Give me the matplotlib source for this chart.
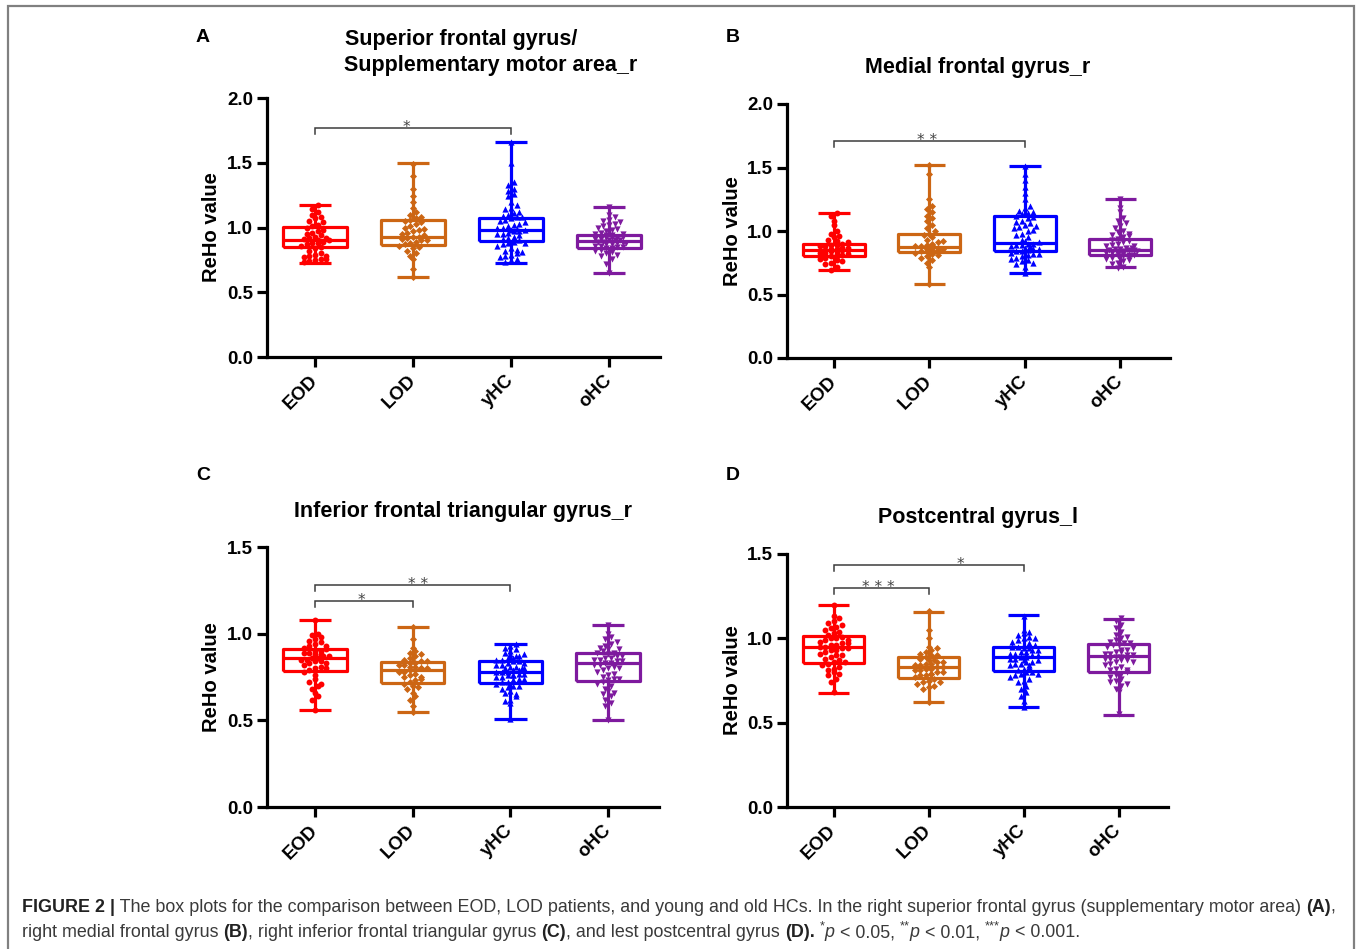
import matplotlib
matplotlib.use("Agg")
import matplotlib.pyplot as plt
from matplotlib.patches import Rectangle
import numpy as np

W, H, DPI = 1357, 949, 100

groups = ["EOD", "LOD", "yHC", "oHC"]
group_colors = ["#FF0000", "#CC6614", "#0000FF", "#7E1A9E"]
group_markers = ["o", "D", "^", "v"]
group_msize = [18, 13, 20, 20]

# ---------------- Panel A: Superior frontal gyrus / SMA_r ----------------
a_title = ["Superior frontal gyrus/", "Supplementary motor area_r"]
a_eod = [0.73, 0.74, 0.75, 0.76, 0.77, 0.78, 0.79, 0.80, 0.82, 0.84,
         0.85, 0.86, 0.87, 0.88, 0.88, 0.89, 0.90, 0.90, 0.91, 0.92,
         0.93, 0.94, 0.95, 0.96, 0.97, 0.98, 1.00, 1.01, 1.02, 1.04,
         1.05, 1.07, 1.08, 1.10, 1.12, 1.14, 1.17, 0.76, 0.78, 0.92]
a_lod = [0.62, 0.68, 0.76, 0.78, 0.80, 0.82, 0.84, 0.85, 0.86, 0.87,
         0.88, 0.89, 0.90, 0.90, 0.91, 0.92, 0.93, 0.93, 0.94, 0.95,
         0.96, 0.97, 0.98, 0.99, 1.00, 1.01, 1.03, 1.04, 1.05, 1.06,
         1.07, 1.08, 1.10, 1.12, 1.15, 1.20, 1.24, 1.30, 1.40, 1.49]
a_yhc = [0.73, 0.75, 0.77, 0.78, 0.79, 0.80, 0.81, 0.82, 0.84, 0.86,
         0.87, 0.88, 0.89, 0.90, 0.91, 0.92, 0.93, 0.94, 0.95, 0.95,
         0.96, 0.97, 0.97, 0.98, 0.98, 0.99, 1.00, 1.00, 1.01, 1.02,
         1.03, 1.04, 1.05, 1.06, 1.07, 1.08, 1.08, 1.09, 1.10, 1.11,
         1.12, 1.14, 1.15, 1.17, 1.20, 1.24, 1.26, 1.28, 1.30, 1.33,
         1.35, 1.50, 1.66, 0.76, 0.83, 0.88]
a_ohc = [0.65, 0.72, 0.76, 0.78, 0.80, 0.81, 0.82, 0.83, 0.84, 0.84,
         0.85, 0.86, 0.86, 0.87, 0.87, 0.88, 0.88, 0.89, 0.89, 0.90,
         0.90, 0.90, 0.91, 0.91, 0.92, 0.92, 0.93, 0.93, 0.94, 0.94,
         0.95, 0.96, 0.97, 0.98, 0.99, 1.00, 1.01, 1.02, 1.03, 1.05,
         1.06, 1.08, 1.10, 1.16, 0.79, 0.85, 0.88, 0.92, 0.95, 1.04]
a_min = [0.728, 0.620, 0.723, 0.646]
a_q1 = [0.847, 0.865, 0.896, 0.839]
a_med = [0.900, 0.929, 0.981, 0.896]
a_q3 = [1.006, 1.058, 1.076, 0.940]
a_max = [1.170, 1.496, 1.663, 1.161]
a_sig = [(0, 2, 1.77, "*", 0.93)]

# ---------------- Panel B: Medial frontal gyrus_r ----------------
b_title = "Medial frontal gyrus_r"
b_eod = [0.69, 0.72, 0.74, 0.75, 0.77, 0.78, 0.79, 0.80, 0.80, 0.81,
         0.82, 0.82, 0.83, 0.83, 0.84, 0.84, 0.85, 0.85, 0.85, 0.86,
         0.86, 0.87, 0.87, 0.88, 0.88, 0.89, 0.89, 0.90, 0.91, 0.92,
         0.93, 0.95, 0.96, 0.98, 1.00, 1.05, 1.08, 1.12, 1.14, 0.76]
b_lod = [0.58, 0.72, 0.75, 0.77, 0.79, 0.80, 0.82, 0.83, 0.84, 0.84,
         0.85, 0.85, 0.86, 0.86, 0.87, 0.87, 0.88, 0.88, 0.89, 0.90,
         0.91, 0.92, 0.93, 0.95, 0.97, 0.98, 1.00, 1.02, 1.05, 1.08,
         1.10, 1.12, 1.15, 1.17, 1.20, 1.25, 1.45, 1.52, 0.81, 0.89]
b_yhc = [0.67, 0.72, 0.74, 0.76, 0.77, 0.78, 0.79, 0.80, 0.81, 0.82,
         0.83, 0.84, 0.84, 0.85, 0.86, 0.86, 0.87, 0.87, 0.88, 0.89,
         0.89, 0.90, 0.90, 0.91, 0.92, 0.93, 0.95, 0.97, 0.98, 1.00,
         1.01, 1.02, 1.03, 1.05, 1.06, 1.07, 1.08, 1.10, 1.11, 1.12,
         1.13, 1.14, 1.15, 1.16, 1.18, 1.20, 1.25, 1.30, 1.35, 1.40,
         1.45, 1.51, 0.75, 0.82, 0.88, 1.04]
b_ohc = [0.71, 0.72, 0.74, 0.75, 0.76, 0.77, 0.78, 0.79, 0.80, 0.80,
         0.81, 0.81, 0.82, 0.82, 0.83, 0.83, 0.84, 0.84, 0.85, 0.85,
         0.85, 0.86, 0.86, 0.87, 0.87, 0.88, 0.89, 0.90, 0.91, 0.92,
         0.93, 0.94, 0.95, 0.96, 0.97, 0.99, 1.00, 1.02, 1.04, 1.06,
         1.08, 1.10, 1.15, 1.18, 1.25, 0.79, 0.84, 0.88, 0.92, 0.98]
b_min = [0.693, 0.580, 0.667, 0.714]
b_q1 = [0.806, 0.837, 0.842, 0.811]
b_med = [0.850, 0.876, 0.903, 0.850]
b_q3 = [0.895, 0.980, 1.120, 0.934]
b_max = [1.144, 1.520, 1.512, 1.254]
b_sig = [(0, 2, 1.71, "* *", 0.98)]

# ---------------- Panel C: Inferior frontal triangular gyrus_r ----------------
c_title = "Inferior frontal triangular gyrus_r"
c_eod = [0.56, 0.62, 0.64, 0.66, 0.68, 0.70, 0.72, 0.74, 0.76, 0.78,
         0.79, 0.80, 0.81, 0.82, 0.83, 0.84, 0.84, 0.85, 0.85, 0.86,
         0.86, 0.87, 0.87, 0.88, 0.88, 0.89, 0.89, 0.90, 0.90, 0.91,
         0.92, 0.93, 0.94, 0.95, 0.96, 0.97, 0.98, 0.99, 1.00, 1.08,
         0.71, 0.80, 0.83, 0.93]
c_lod = [0.55, 0.58, 0.62, 0.64, 0.66, 0.68, 0.70, 0.71, 0.72, 0.73,
         0.74, 0.75, 0.76, 0.77, 0.78, 0.78, 0.79, 0.79, 0.80, 0.80,
         0.81, 0.81, 0.82, 0.82, 0.83, 0.83, 0.84, 0.85, 0.86, 0.87,
         0.88, 0.89, 0.90, 0.92, 0.97, 1.04, 0.69, 0.75, 0.80, 0.84]
c_yhc = [0.51, 0.60, 0.61, 0.62, 0.64, 0.66, 0.67, 0.68, 0.69, 0.70,
         0.70, 0.71, 0.72, 0.72, 0.73, 0.74, 0.74, 0.75, 0.75, 0.76,
         0.76, 0.77, 0.77, 0.78, 0.78, 0.78, 0.79, 0.79, 0.80, 0.80,
         0.81, 0.81, 0.82, 0.82, 0.83, 0.84, 0.84, 0.85, 0.85, 0.86,
         0.86, 0.87, 0.88, 0.88, 0.89, 0.90, 0.91, 0.92, 0.93, 0.94,
         0.65, 0.73, 0.76, 0.80, 0.83, 0.87]
c_ohc = [0.50, 0.58, 0.60, 0.62, 0.64, 0.65, 0.67, 0.68, 0.70, 0.71,
         0.72, 0.73, 0.74, 0.75, 0.76, 0.77, 0.78, 0.79, 0.80, 0.81,
         0.82, 0.82, 0.83, 0.83, 0.84, 0.84, 0.85, 0.85, 0.86, 0.86,
         0.87, 0.87, 0.88, 0.88, 0.89, 0.90, 0.91, 0.92, 0.93, 0.94,
         0.95, 0.97, 0.98, 1.00, 1.05, 0.66, 0.74, 0.80, 0.89, 0.91]
c_min = [0.560, 0.550, 0.510, 0.500]
c_q1 = [0.787, 0.715, 0.716, 0.725]
c_med = [0.859, 0.792, 0.777, 0.830]
c_q3 = [0.909, 0.835, 0.843, 0.890]
c_max = [1.077, 1.040, 0.940, 1.050]
c_sig = [(0, 1, 1.19, "*", 0.48), (0, 2, 1.28, "* *", 1.06)]

# ---------------- Panel D: Postcentral gyrus_l ----------------
d_title = "Postcentral gyrus_l"
d_eod = [0.68, 0.74, 0.76, 0.78, 0.80, 0.81, 0.82, 0.83, 0.84, 0.85,
         0.86, 0.87, 0.88, 0.89, 0.90, 0.91, 0.92, 0.93, 0.93, 0.94,
         0.94, 0.95, 0.95, 0.96, 0.96, 0.97, 0.97, 0.98, 0.99, 1.00,
         1.00, 1.01, 1.02, 1.03, 1.04, 1.05, 1.06, 1.07, 1.08, 1.09,
         1.10, 1.12, 1.13, 1.20, 0.79, 0.86, 0.90, 0.99]
d_lod = [0.62, 0.70, 0.71, 0.72, 0.73, 0.74, 0.75, 0.76, 0.77, 0.78,
         0.78, 0.79, 0.80, 0.80, 0.81, 0.81, 0.82, 0.82, 0.83, 0.83,
         0.84, 0.84, 0.85, 0.85, 0.86, 0.86, 0.87, 0.88, 0.89, 0.90,
         0.91, 0.92, 0.93, 0.94, 0.95, 1.00, 1.05, 1.16, 0.74, 0.79,
         0.87, 0.90]
d_yhc = [0.59, 0.63, 0.66, 0.70, 0.72, 0.74, 0.75, 0.76, 0.77, 0.78,
         0.79, 0.80, 0.80, 0.81, 0.82, 0.83, 0.84, 0.85, 0.85, 0.86,
         0.86, 0.87, 0.87, 0.88, 0.88, 0.89, 0.89, 0.90, 0.90, 0.91,
         0.91, 0.92, 0.92, 0.93, 0.93, 0.94, 0.94, 0.95, 0.95, 0.96,
         0.97, 0.98, 0.99, 1.00, 1.01, 1.02, 1.03, 1.04, 1.05, 1.13,
         0.68, 0.79, 0.84, 0.90, 0.96, 1.00]
d_ohc = [0.55, 0.68, 0.70, 0.72, 0.74, 0.75, 0.76, 0.77, 0.78, 0.79,
         0.80, 0.81, 0.82, 0.83, 0.84, 0.85, 0.86, 0.87, 0.87, 0.88,
         0.88, 0.89, 0.89, 0.90, 0.90, 0.91, 0.91, 0.92, 0.92, 0.93,
         0.94, 0.95, 0.96, 0.96, 0.97, 0.97, 0.98, 0.99, 1.00, 1.01,
         1.02, 1.04, 1.06, 1.08, 1.10, 1.12, 0.73, 0.81, 0.86, 0.93]
d_min = [0.677, 0.623, 0.593, 0.548]
d_q1 = [0.851, 0.766, 0.804, 0.800]
d_med = [0.948, 0.829, 0.891, 0.895]
d_q3 = [1.012, 0.891, 0.948, 0.968]
d_max = [1.196, 1.157, 1.137, 1.117]
d_sig = [(0, 1, 1.30, "* * *", 0.47), (0, 2, 1.435, "*", 1.33)]

yticks_ab = [0.0, 0.5, 1.0, 1.5, 2.0]
yticks_cd = [0.0, 0.5, 1.0, 1.5]
ylabel_text = "ReHo value"

caption_line1 = [("FIGURE 2 |", "b"),
                 (" The box plots for the comparison between EOD, LOD patients, and young and old HCs. "
                  "In the right superior frontal gyrus (supplementary motor area) ", "n"),
                 ("(A)", "b"), (",", "n")]
caption_line2 = [("right medial frontal gyrus ", "n"), ("(B)", "b"),
                 (", right inferior frontal triangular gyrus ", "n"), ("(C)", "b"),
                 (", and lest postcentral gyrus ", "n"), ("(D).", "b"), (" ", "n"),
                 ("*", "sup"), ("p", "i"), (" < 0.05, ", "n"),
                 ("**", "sup"), ("p", "i"), (" < 0.01, ", "n"),
                 ("***", "sup"), ("p", "i"), (" < 0.001.", "n")]

# ======================================================================
plt.rcParams["font.family"] = ["Liberation Sans", "DejaVu Sans"]
fig = plt.figure(figsize=(W / DPI, H / DPI), dpi=DPI)
fig.patch.set_facecolor("white")


def px_rect(left, right, top, bottom):
    return [left / W, 1 - bottom / H, (right - left) / W, (bottom - top) / H]


def fx(x):
    return x / W


def fy(y):
    return 1 - y / H


def row_offsets(vals, ppx, ppy, row_px, col_px, maxn):
    """Prism-like scatter: points binned into rows, spread side by side."""
    vals = np.asarray(vals, float)
    bins = np.round(vals * ppy / row_px).astype(int)
    out = np.zeros(len(vals))
    for b in np.unique(bins):
        idx = np.where(bins == b)[0]
        chunks = [idx[k:k + maxn] for k in range(0, len(idx), maxn)]
        for c, chunk in enumerate(chunks):
            m = len(chunk)
            shift = (col_px / 2.0) if (c % 2 == 1) else 0.0
            for j, i in enumerate(chunk):
                out[i] = ((j - (m - 1) / 2.0) * col_px + shift) / ppx
    return out


XLIM = (-0.49, 3.52)


def panel(rect_px, ylim, yticks, datasets, mins, q1s, meds, q3s, maxs, sigs):
    left, right, top, bottom = rect_px
    ax = fig.add_axes(px_rect(left, right, top, bottom))
    ax.set_xlim(*XLIM)
    ax.set_ylim(*ylim)
    ppx = (right - left) / (XLIM[1] - XLIM[0])
    ppy = (bottom - top) / (ylim[1] - ylim[0])

    stats = []
    for i in range(4):
        stats.append(dict(med=meds[i], q1=q1s[i], q3=q3s[i],
                          whislo=mins[i], whishi=maxs[i], fliers=[]))
    res = ax.bxp(stats, positions=range(4), widths=0.65, capwidths=0.33,
                 showfliers=False, patch_artist=False, manage_ticks=False)
    for i in range(4):
        c = group_colors[i]
        for art in [res["boxes"][i], res["medians"][i],
                    res["whiskers"][2 * i], res["whiskers"][2 * i + 1],
                    res["caps"][2 * i], res["caps"][2 * i + 1]]:
            art.set_color(c)
            art.set_linewidth(2.3)
            art.set_solid_capstyle("butt")
            art.set_zorder(3)

    for i, vals in enumerate(datasets):
        offs = row_offsets(vals, ppx, ppy, 6.0, 5.6, 6)
        ax.scatter(np.full(len(vals), i) + offs, vals, s=group_msize[i],
                   marker=group_markers[i], color=group_colors[i],
                   linewidths=0, zorder=4, clip_on=False)

    drop = 6.0 / ppy
    for (g1, g2, yv, label, sx) in sigs:
        ax.plot([g1, g1, g2, g2], [yv - drop, yv, yv, yv - drop],
                color="#3c3c3c", lw=1.1, zorder=5, clip_on=False,
                solid_joinstyle="miter")
        ax.text(sx, yv - 4.0 / ppy, label, ha="center", va="baseline",
                fontsize=11, color="#444444", family=["DejaVu Sans"])

    for s in ["top", "right"]:
        ax.spines[s].set_visible(False)
    for s in ["left", "bottom"]:
        ax.spines[s].set_linewidth(2.3)
        ax.spines[s].set_color("black")
    ax.set_yticks(yticks)
    ax.set_yticklabels(["%.1f" % t for t in yticks])
    ax.set_xticks(range(4))
    ax.set_xticklabels(groups, rotation=45, ha="right", va="center",
                       rotation_mode="anchor")
    ax.tick_params(axis="both", direction="out", width=2.3, length=7,
                   labelsize=13.5, color="black")
    ax.tick_params(axis="x", pad=8)
    ax.tick_params(axis="y", pad=3)
    for lab in ax.get_xticklabels() + ax.get_yticklabels():
        lab.set_fontweight("bold")
    ax.set_ylabel(ylabel_text, fontsize=14.5, fontweight="bold")
    ax.yaxis.set_label_coords(-0.118, 0.5)
    ax.patch.set_alpha(0)
    return ax


axA = panel((267, 660, 98, 357), (0, 2.0), yticks_ab, [a_eod, a_lod, a_yhc, a_ohc],
            a_min, a_q1, a_med, a_q3, a_max, a_sig)
axB = panel((787, 1170, 104, 358), (0, 2.0), yticks_ab, [b_eod, b_lod, b_yhc, b_ohc],
            b_min, b_q1, b_med, b_q3, b_max, b_sig)
axC = panel((267, 659, 547, 807), (0, 1.5), yticks_cd, [c_eod, c_lod, c_yhc, c_ohc],
            c_min, c_q1, c_med, c_q3, c_max, c_sig)
axD = panel((787, 1168, 554, 807), (0, 1.5), yticks_cd, [d_eod, d_lod, d_yhc, d_ohc],
            d_min, d_q1, d_med, d_q3, d_max, d_sig)

# titles
tkw = dict(fontsize=15.5, fontweight="bold", color="black")
fig.text(fx(345), fy(40), a_title[0], ha="left", va="center", **tkw)
fig.text(fx(344), fy(66), a_title[1], ha="left", va="center", **tkw)
fig.text(fx(978), fy(67), b_title, ha="center", va="center", **tkw)
fig.text(fx(463), fy(511), c_title, ha="center", va="center", **tkw)
fig.text(fx(978), fy(517), d_title, ha="center", va="center", **tkw)

# panel letters
lkw = dict(fontsize=14, fontweight="bold", ha="center", va="center", color="black")
fig.text(fx(203), fy(38), "A", **lkw)
fig.text(fx(733), fy(38), "B", **lkw)
fig.text(fx(203), fy(475), "C", **lkw)
fig.text(fx(733), fy(475), "D", **lkw)

# frame
fig.patches.append(Rectangle((fx(7.5), fy(975)), fx(1354) - fx(7.5), fy(6) - fy(975),
                             transform=fig.transFigure, fill=False,
                             edgecolor="#808080", lw=1.6, figure=fig))

# caption
renderer = fig.canvas.get_renderer()


def seg_kw(style, size):
    kw = dict(fontsize=size)
    if style == "b":
        kw["fontweight"] = "bold"
    elif style == "i":
        kw["fontstyle"] = "italic"
    elif style == "sup":
        kw["fontsize"] = size * 0.72
    return kw


def measure(txt, kw):
    t1 = fig.text(0, 0, "|" + txt + "|", **kw)
    t2 = fig.text(0, 0, "||", **kw)
    w = t1.get_window_extent(renderer).width - t2.get_window_extent(renderer).width
    t1.remove()
    t2.remove()
    return w


def line_width(segs, size):
    return sum(measure(t, seg_kw(s, size)) for t, s in segs)


def draw_line(segs, x0, ybase, size):
    x = x0
    for txt, style in segs:
        kw = seg_kw(style, size)
        col = "#222222" if style == "b" else "#3a3a3a"
        yy = ybase
        if style == "sup":
            yy = ybase - size * 0.42 * DPI / 72
        fig.text(fx(x), fy(yy), txt, ha="left", va="baseline", color=col, **kw)
        x += measure(txt, kw)


w10 = line_width(caption_line1, 10)
cap_size = 10 * (1340 - 22) / w10
draw_line(caption_line1, 22, 912, cap_size)
draw_line(caption_line2, 22, 937, cap_size)

fig.savefig("out.png", dpi=DPI, facecolor="white")
